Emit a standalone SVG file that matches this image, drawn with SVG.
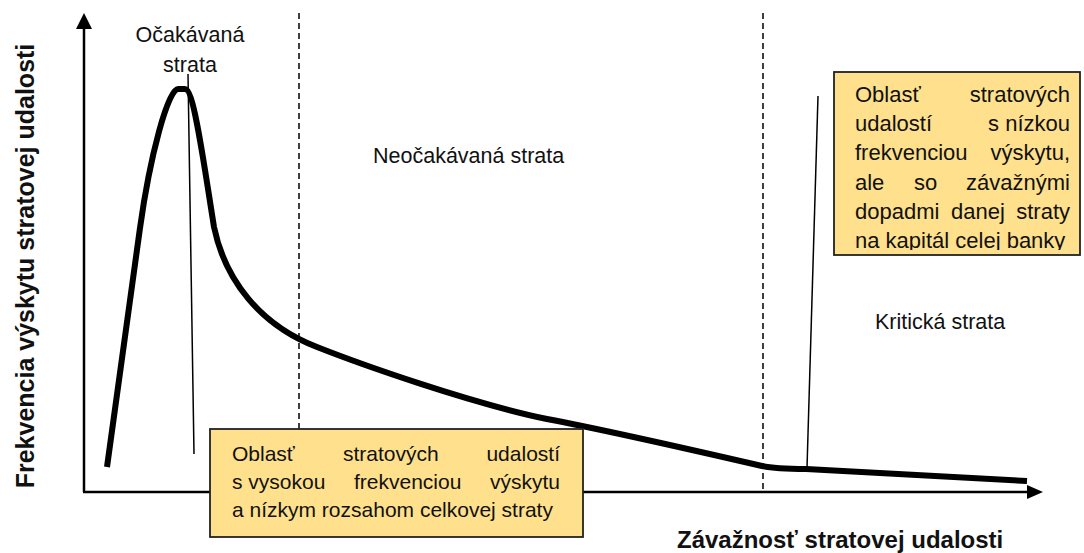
<svg xmlns="http://www.w3.org/2000/svg" width="1084" height="553" viewBox="0 0 1084 553">
  <defs>
    <style>
      .t { font-family: "Liberation Sans", Arial, sans-serif; font-size: 21.5px; fill: #111; }
      .s { font-size: 21px; }
      .r { font-size: 22px; }
      .b { font-family: "Liberation Sans", Arial, sans-serif; font-weight: bold; fill: #111; }
      .e { text-anchor: end; }
      .axis { stroke: #000; stroke-width: 2.5; fill: none; }
      .dash { stroke: #000; stroke-width: 1.5; stroke-dasharray: 6 4; fill: none; }
      .lead { stroke: #000; stroke-width: 1.5; fill: none; }
      .box { fill: #FFE08C; stroke: #222; stroke-width: 1.8; }
      .curve { stroke: #000; stroke-width: 6; fill: none; stroke-linejoin: round; }
    </style>
    <clipPath id="clipRight">
      <rect x="834" y="72" width="246" height="178"/>
    </clipPath>
  </defs>

  <rect width="1084" height="553" fill="#fff"/>

  <!-- region separators -->
  <g id="separators">
    <line class="dash" x1="299" y1="13" x2="299" y2="492"/>
    <line class="dash" x1="763" y1="13" x2="763" y2="492"/>
  </g>

  <!-- axes -->
  <g id="axes">
    <line class="axis" x1="84" y1="492" x2="84" y2="28"/>
    <polygon points="84,13 76,29 92,29" fill="#000"/>
    <line class="axis" x1="83" y1="492" x2="1028" y2="492"/>
    <polygon points="1043,492 1027,485 1027,499" fill="#000"/>
    <text class="b" font-size="25" transform="translate(34,266) rotate(-90)" text-anchor="middle">Frekvencia výskytu stratovej udalosti</text>
    <text class="b" font-size="24" x="677" y="548">Závažnosť stratovej udalosti</text>
  </g>

  <!-- loss frequency curve -->
  <g id="curve">
    <path class="curve" d="M107,467 L140,228 C150,156 168,89 178,89 L185,89 C194,89 204,165 214,227 C225,280 260,325 317,347 C360,364 470,403 547,419 C600,429 710,454 762,466 C775,469 790,469 806,469 L1027,481"/>
  </g>

  <!-- leader lines -->
  <g id="connectors">
    <line class="lead" x1="188" y1="74" x2="194" y2="454"/>
    <line class="lead" x1="818" y1="96" x2="807" y2="468"/>
  </g>

  <!-- region labels -->
  <g id="label-expected">
    <text class="t" x="190" y="42" text-anchor="middle">Očakávaná</text>
    <text class="t" x="190" y="72" text-anchor="middle">strata</text>
  </g>
  <g id="label-unexpected">
    <text class="t" x="373" y="163">Neočakávaná strata</text>
  </g>
  <g id="label-critical">
    <text class="t" x="875" y="329">Kritická strata</text>
  </g>

  <!-- high frequency box -->
  <g id="box-high-frequency">
    <rect class="box" x="210" y="429" width="373" height="108"/>
    <text class="t s" x="232" y="461">Oblasť</text>
    <text class="t s" x="343" y="461">stratových</text>
    <text class="t s e" x="560" y="461">udalostí</text>
    <text class="t s" x="232" y="489">s vysokou</text>
    <text class="t s" x="354" y="489">frekvenciou</text>
    <text class="t s e" x="560" y="489">výskytu</text>
    <text class="t s" x="232" y="517">a nízkym rozsahom celkovej straty</text>
  </g>

  <!-- low frequency box -->
  <g id="box-low-frequency">
    <rect class="box" x="834" y="72" width="246" height="183"/>
    <g clip-path="url(#clipRight)">
      <text class="t r" x="855" y="102">Oblasť</text>
      <text class="t r e" x="1070" y="102">stratových</text>
      <text class="t r" x="855" y="131">udalostí</text>
      <text class="t r e" x="1070" y="131">s nízkou</text>
      <text class="t r" x="855" y="160">frekvenciou</text>
      <text class="t r e" x="1070" y="160">výskytu,</text>
      <text class="t r" x="855" y="190">ale</text>
      <text class="t r" x="914" y="190">so</text>
      <text class="t r e" x="1070" y="190">závažnými</text>
      <text class="t r" x="855" y="219">dopadmi</text>
      <text class="t r" x="951" y="219">danej</text>
      <text class="t r e" x="1070" y="219">straty</text>
      <text class="t r" x="855" y="248">na kapitál celej banky</text>
    </g>
  </g>
</svg>
